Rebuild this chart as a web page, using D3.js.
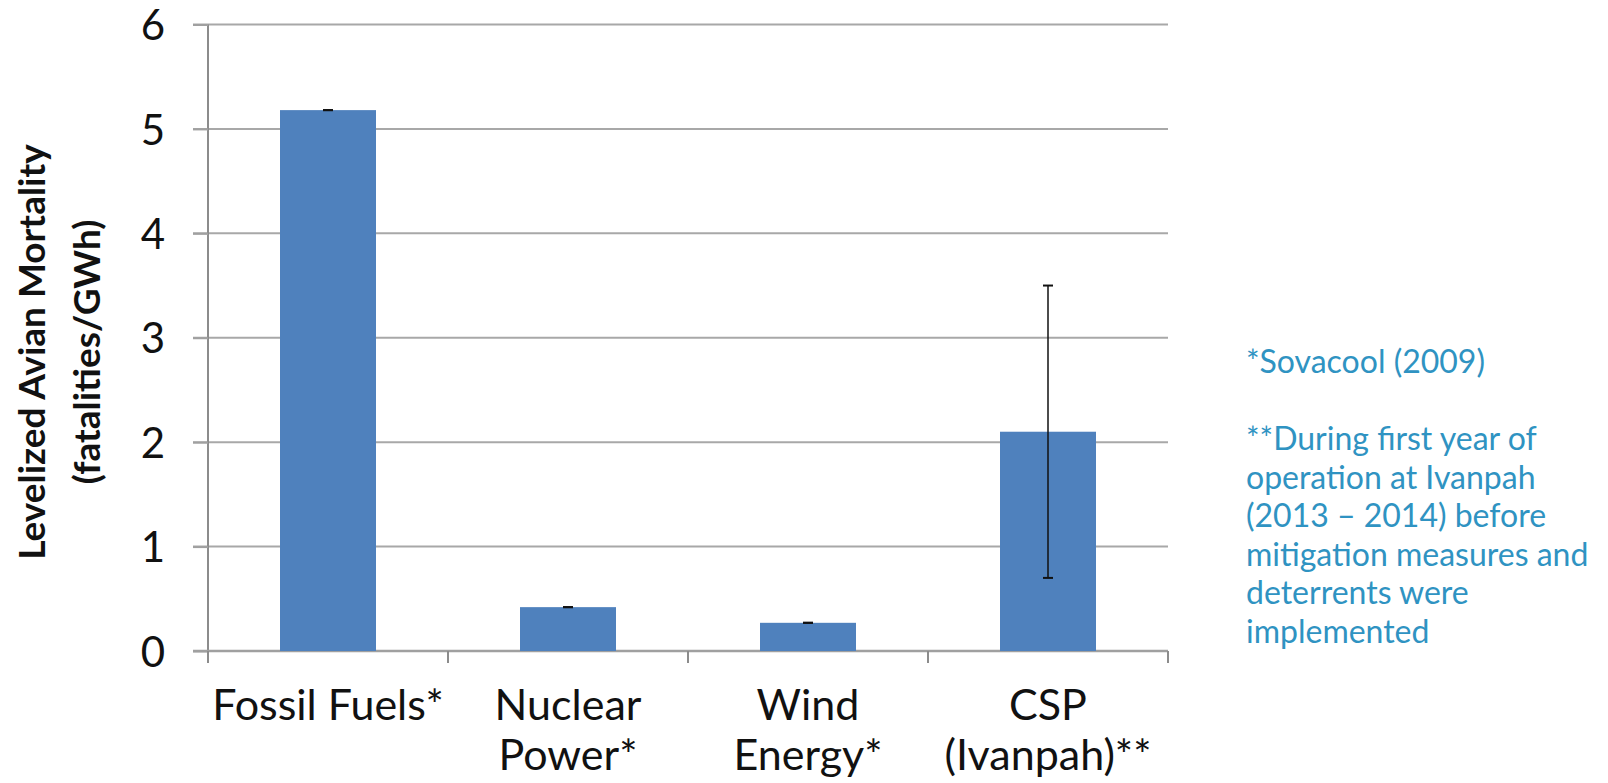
<!DOCTYPE html>
<html>
<head>
<meta charset="utf-8">
<script src="https://cdn.jsdelivr.net/npm/d3@7"></script>
<style>
  html, body { margin: 0; padding: 0; background: #fff; }
  svg { display: block; }
</style>
</head>
<body>
<svg id="chart" width="1608" height="783"></svg>
<script>
// データ
var categories = ["Fossil Fuels*", "Nuclear Power*", "Wind Energy*", "CSP (Ivanpah)**"];
var label_lines = [["Fossil Fuels*"], ["Nuclear", "Power*"], ["Wind", "Energy*"], ["CSP", "(Ivanpah)**"]];
var mortality = [5.18, 0.42, 0.27, 2.10];
var err_low = [5.18, 0.42, 0.27, 0.70];
var err_high = [5.18, 0.42, 0.27, 3.50];
var y_ticks = [0, 1, 2, 3, 4, 5, 6];
var note_lines = ["*Sovacool (2009)", "", "**During first year of", "operation at Ivanpah",
    "(2013 \u2013 2014) before", "mitigation measures and", "deterrents were", "implemented"];

var font = "Lato, 'Open Sans', sans-serif";
var svg = d3.select("#chart").style("font-family", font);

// 描画領域
var plot_left = 208, plot_right = 1168, plot_top = 24.5, plot_bottom = 651;

var x = d3.scaleBand()
    .domain(categories)
    .range([plot_left, plot_right])
    .paddingInner(0.6)
    .paddingOuter(0.3);

var y = d3.scaleLinear()
    .domain([0, 6])
    .range([plot_bottom, plot_top]);

// gridlines
svg.append("g")
    .selectAll("line")
    .data(y_ticks.filter(d => d > 0))
    .enter()
    .append("line")
    .attr("x1", plot_left - 15)
    .attr("x2", plot_right)
    .attr("y1", d => y(d))
    .attr("y2", d => y(d))
    .attr("stroke", "#a8a8a8")
    .attr("stroke-width", 2);

// y axis
var yAxis = svg.append("g")
    .attr("transform", "translate(" + plot_left + ",0)")
    .call(d3.axisLeft(y).tickValues(y_ticks).tickFormat(d3.format("d")).tickSize(15).tickPadding(28));
yAxis.select(".domain").attr("stroke", "#8c8c8c").attr("stroke-width", 2)
    .attr("d", "M0," + plot_top + "V" + (plot_bottom + 12));
yAxis.selectAll(".tick line").attr("stroke", "#a0a0a0").attr("stroke-width", 2);
yAxis.selectAll(".tick text")
    .attr("fill", "#111")
    .style("font-size", "42px")
    .style("font-family", font)
    .attr("dy", "0.36em");

// x axis
var band_edges = [plot_left].concat(categories.map(c => x(c) + x.bandwidth() + x.step() * 0.3));
var xAxis = svg.append("g");
xAxis.append("line")
    .attr("x1", plot_left - 15).attr("x2", plot_right)
    .attr("y1", plot_bottom).attr("y2", plot_bottom)
    .attr("stroke", "#a0a0a0").attr("stroke-width", 2.5);
xAxis.selectAll(".xtick")
    .data(band_edges)
    .enter()
    .append("line")
    .attr("class", "xtick")
    .attr("x1", d => d).attr("x2", d => d)
    .attr("y1", plot_bottom).attr("y2", plot_bottom + 12)
    .attr("stroke", "#8c8c8c").attr("stroke-width", 2);

// bars
svg.append("g")
    .selectAll("rect")
    .data(categories)
    .enter()
    .append("rect")
    .attr("x", d => x(d))
    .attr("width", x.bandwidth())
    .attr("y", (d, i) => y(mortality[i]))
    .attr("height", (d, i) => plot_bottom - y(mortality[i]))
    .attr("fill", "#4f81bd");

// error bars
var eb = svg.append("g")
    .selectAll("g")
    .data(categories)
    .enter()
    .append("g");
eb.append("line")
    .attr("x1", d => x(d) + x.bandwidth() / 2)
    .attr("x2", d => x(d) + x.bandwidth() / 2)
    .attr("y1", (d, i) => y(err_low[i]))
    .attr("y2", (d, i) => y(err_high[i]))
    .attr("stroke", "#111").attr("stroke-width", 1.5);
eb.selectAll(".cap")
    .data((d, i) => [{c: d, v: err_low[i]}, {c: d, v: err_high[i]}])
    .enter()
    .append("line")
    .attr("class", "cap")
    .attr("x1", d => x(d.c) + x.bandwidth() / 2 - 5)
    .attr("x2", d => x(d.c) + x.bandwidth() / 2 + 5)
    .attr("y1", d => y(d.v))
    .attr("y2", d => y(d.v))
    .attr("stroke", "#111").attr("stroke-width", 2);

// category labels
var xl = svg.append("g")
    .selectAll("text")
    .data(categories)
    .enter()
    .append("text")
    .attr("text-anchor", "middle")
    .attr("fill", "#111")
    .style("font-size", "43px");
xl.selectAll("tspan")
    .data((d, i) => label_lines[i].map(t => ({c: d, t: t})))
    .enter()
    .append("tspan")
    .attr("x", d => x(d.c) + x.bandwidth() / 2)
    .attr("y", (d, j) => 720 + j * 50)
    .text(d => d.t);

// y axis title
var yt = svg.append("text")
    .attr("transform", "translate(0,352) rotate(-90)")
    .attr("text-anchor", "middle")
    .attr("fill", "#111")
    .style("font-weight", "bold")
    .style("font-size", "37px");
yt.append("tspan").attr("x", 0).attr("y", 45).text("Levelized Avian Mortality");
yt.append("tspan").attr("x", 0).attr("y", 100).text("(fatalities/GWh)");

// notes
svg.append("g")
    .selectAll("text")
    .data(note_lines)
    .enter()
    .append("text")
    .attr("x", 1246)
    .attr("y", (d, i) => 373 + i * 38.5)
    .attr("fill", "#2f93c2")
    .style("font-size", "32px")
    .text(d => d);
</script>
</body>
</html>
